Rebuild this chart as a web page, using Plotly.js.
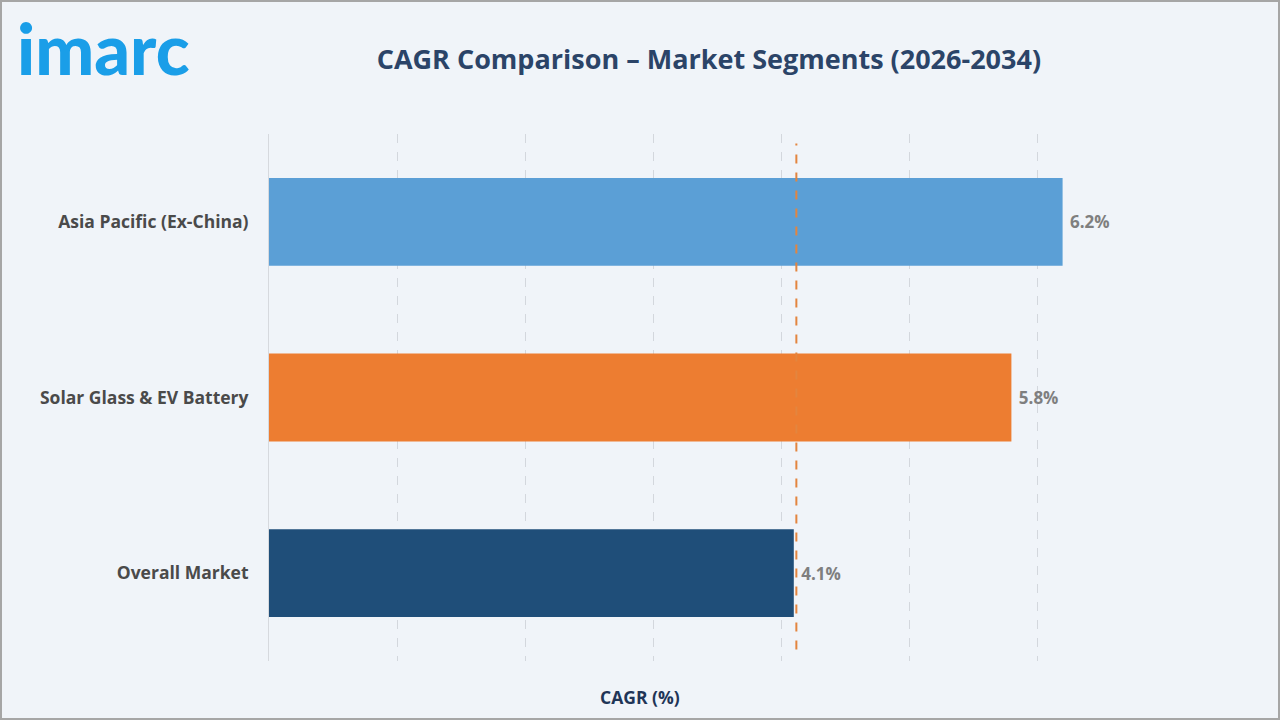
<!DOCTYPE html>
<html>
<head>
<meta charset="utf-8">
<script src="https://cdn.plot.ly/plotly-3.0.1.min.js"></script>
<style>
  html, body { margin: 0; padding: 0; background: #f0f4f9; }
  #frame { width: 1280px; height: 720px; box-sizing: border-box; border: 2px solid #a6a6a6; overflow: hidden; }
  #chart { width: 1276px; height: 716px; }
</style>
</head>
<body>
<div id="frame"><div id="chart"></div></div>
<script>
// Segment growth rates, 2026-2034
const segments = ["Asia Pacific (Ex-China)", "Solar Glass & EV Battery", "Overall Market"];
const cagrValues = [6.2, 5.8, 4.1];
const barColors = ["#5b9fd6", "#ed7d31", "#1f4e79"];
const valueLabels = cagrValues.map(v => "\u00a0" + v.toFixed(1) + "%");
const referenceCagr = 4.12;

const font = "'Open Sans', 'Noto Sans', sans-serif";

const trace = {
  type: "bar",
  orientation: "h",
  y: segments,
  x: cagrValues,
  marker: { color: barColors },
  text: valueLabels,
  textposition: "outside",
  cliponaxis: false,
  textfont: { family: font, size: 17, color: "#7f7f7f", weight: 700 },
  hoverinfo: "skip"
};

const layout = {
  width: 1276,
  height: 716,
  paper_bgcolor: "#f0f4f9",
  plot_bgcolor: "#f0f4f9",
  margin: { l: 267, r: 113, t: 132, b: 57 },
  showlegend: false,
  bargap: 0.5,
  title: {
    text: "CAGR Comparison – Market Segments (2026-2034)",
    font: { family: font, size: 27, color: "#2b4468", weight: 700 },
    x: 0.554, xanchor: "center",
    y: 0.92, yanchor: "middle"
  },
  xaxis: {
    range: [0, 7],
    dtick: 1,
    showticklabels: false,
    ticks: "",
    showgrid: true,
    gridcolor: "#d3d7dd",
    griddash: "dash",
    gridwidth: 1,
    zeroline: false,
    showline: false,
    fixedrange: true
  },
  yaxis: {
    autorange: "reversed",
    showgrid: false,
    zeroline: false,
    showline: true,
    linecolor: "#d6d9de",
    linewidth: 1,
    ticks: "",
    ticklabelstandoff: 16,
    tickfont: { family: font, size: 17.5, color: "#4a4a4a", weight: 700 },
    fixedrange: true
  },
  shapes: [{
    type: "line",
    xref: "x", yref: "paper",
    x0: referenceCagr, x1: referenceCagr,
    y0: 0.022, y1: 0.982,
    line: { color: "#e3853f", width: 2, dash: "dash" },
    layer: "above"
  }],
  annotations: [
    {
      text: "imarc",
      xref: "paper", yref: "paper",
      x: -0.283, y: 1.163,
      xanchor: "left", yanchor: "middle",
      showarrow: false,
      font: { family: "Lato, 'Open Sans', sans-serif", size: 70, color: "#1a9ee8", weight: 900 }
    },
    {
      text: "CAGR (%)",
      xref: "paper", yref: "paper",
      x: 0.414, y: -0.068,
      xanchor: "center", yanchor: "middle",
      showarrow: false,
      font: { family: font, size: 17.5, color: "#1f3557", weight: 700 }
    }
  ]
};

Plotly.newPlot("chart", [trace], layout, { displayModeBar: false, staticPlot: true });
</script>
</body>
</html>
